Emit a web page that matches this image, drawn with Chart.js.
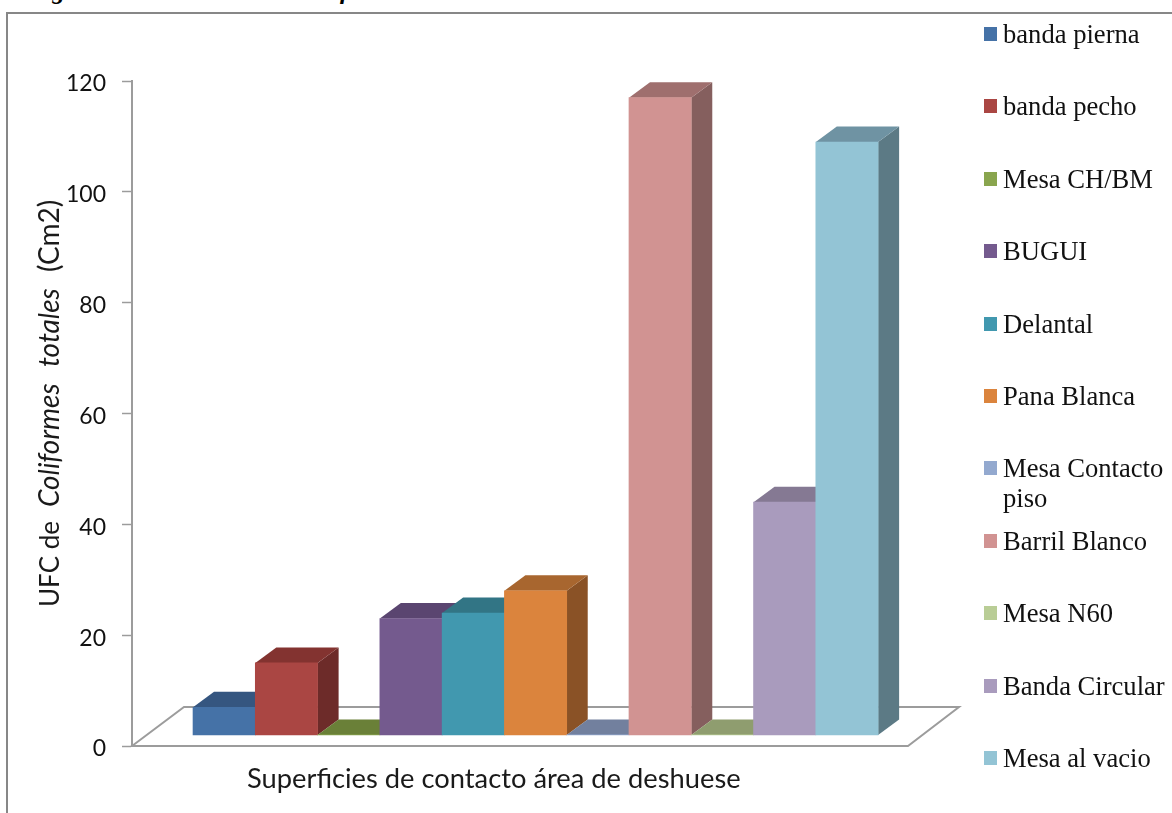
<!DOCTYPE html>
<html lang="es">
<head>
<meta charset="utf-8">
<title>UFC de Coliformes totales</title>
<script src="https://cdn.jsdelivr.net/npm/chart.js@4"></script>
<style>
    html, body { margin: 0; padding: 0; background: #fff; overflow: hidden; }
    #page { position: relative; width: 1172px; height: 813px; overflow: hidden; }
    #frame { position: absolute; left: 6px; top: 12px; width: 1200px; height: 900px; border: 2px solid #878787; }
    #chart { position: absolute; left: 0; top: 0; }
    .caption { position: absolute; top: -23px; font: italic bold 25px "Liberation Serif", serif; color: #000; white-space: nowrap; }
    .legend-item { position: absolute; left: 984px; }
    .legend-swatch { position: absolute; left: 0; top: 0; width: 13px; height: 14px; }
    .legend-text { position: absolute; left: 19px; top: -8px; width: 168px; font: 26.6px/30px "Liberation Serif", serif; color: #111; }
</style>
</head>
<body>
<div id="page">
    <div class="caption" style="left: 29px;">Figura</div>
    <div class="caption" style="left: 297px;">Coliformes totales</div>
    <div id="frame"></div>
    <canvas id="chart" width="1172" height="813"></canvas>
    <div id="legend"></div>
</div>
<script>
// Superficies muestreadas y recuento de cada una
const categories = ['banda pierna', 'banda pecho', 'Mesa CH/BM', 'BUGUI', 'Delantal', 'Pana Blanca',
    'Mesa Contacto piso', 'Barril Blanco', 'Mesa N60', 'Banda Circular', 'Mesa al vacio'];
const counts = [5, 13, 0, 21, 22, 26, 0, 115, 0, 42, 107];
const axisTicks = [0, 20, 40, 60, 80, 100, 120];

// Front, top and side shades of each bar
const frontColors = ['#4572a7', '#aa4643', '#89a54e', '#745a8e', '#4198af', '#db843d',
    '#93a9cf', '#d19392', '#b9cd96', '#a99bbd', '#93c4d5'];
const topColors = ['#355680', '#833330', '#6a8038', '#5a4570', '#327585', '#a8662f',
    '#72809e', '#9f6f6e', '#8f9d6f', '#857993', '#6f93a3'];
const sideColors = ['#2f4c70', '#6d2b29', '#566a30', '#4d3b60', '#2a6270', '#8a5226',
    '#5f6c85', '#855f5e', '#77835d', '#6f657b', '#5c7a85'];

const AXIS_GRAY = '#9c9c9c';
const TEXT_FONT = 'Lato, sans-serif';

// Offset of the back of a bar from its front face
const DEPTH_X = 21;
const DEPTH_Y = 15.5;

function fillFace(ctx, points, color) {
    ctx.beginPath();
    ctx.moveTo(points[0][0], points[0][1]);
    points.slice(1).forEach(p => ctx.lineTo(p[0], p[1]));
    ctx.closePath();
    ctx.fillStyle = color;
    ctx.fill();
}

// Floor outline, drawn under the bars
const floorPlugin = {
    id: 'floor',
    beforeDatasetsDraw(chart) {
        const ctx = chart.ctx;
        const area = chart.chartArea;
        ctx.save();
        ctx.strokeStyle = AXIS_GRAY;
        ctx.lineWidth = 2;
        ctx.beginPath();
        ctx.moveTo(area.left, area.bottom);
        ctx.lineTo(area.left + 52, area.bottom - 39);
        ctx.lineTo(area.right + 51, area.bottom - 39);
        ctx.lineTo(area.right, area.bottom);
        ctx.closePath();
        ctx.stroke();
        ctx.restore();
    }
};

// Side and top faces for each bar, left to right so nearer bars paint over
const depthPlugin = {
    id: 'depth',
    beforeDatasetsDraw(chart) {
        const ctx = chart.ctx;
        ctx.save();
        chart.getDatasetMeta(0).data.forEach((bar, i) => {
            const half = bar.width / 2;
            const left = bar.x - half;
            const right = bar.x + half;
            fillFace(ctx, [[right, bar.y], [right + DEPTH_X, bar.y - DEPTH_Y],
                [right + DEPTH_X, bar.base - DEPTH_Y], [right, bar.base]], sideColors[i]);
            fillFace(ctx, [[left, bar.y], [left + DEPTH_X, bar.y - DEPTH_Y],
                [right + DEPTH_X, bar.y - DEPTH_Y], [right, bar.y]], topColors[i]);
        });
        ctx.restore();
    }
};

// Axis titles: the y title mixes upright and italic text
const titlesPlugin = {
    id: 'titles',
    afterDraw(chart) {
        const ctx = chart.ctx;
        ctx.save();
        ctx.fillStyle = '#1a1a1a';
        ctx.textBaseline = 'alphabetic';
        ctx.font = `27.3px ${TEXT_FONT}`;
        ctx.fillText('Superficies de contacto área de deshuese', 247, 788);

        ctx.translate(59, 607);
        ctx.rotate(-Math.PI / 2);
        [['UFC de', '26px ', 0], ['Coliformes', 'italic 28px ', 100], ['totales', 'italic 28px ', 240], ['(Cm2)', '28px ', 335]].forEach(([text, style, offset]) => {
            ctx.font = `${style}${TEXT_FONT}`;
            ctx.fillText(text, offset, 0);
        });
        ctx.restore();
    }
};

new Chart(document.getElementById('chart'), {
    type: 'bar',
    data: {
        datasets: [{
            data: counts.map((value, i) => ({ x: i, y: value })),
            backgroundColor: frontColors,
            borderWidth: 0,
            barThickness: 62.3,
            yAxisID: 'yBars'
        }]
    },
    options: {
        responsive: false,
        animation: false,
        layout: { padding: { top: 81, bottom: 67, right: 264 } },
        plugins: {
            legend: { display: false },
            tooltip: { enabled: false }
        },
        scales: {
            x: {
                type: 'linear',
                display: false,
                offset: false,
                min: -1.48,
                max: 10.98
            },
            y: {
                position: 'left',
                min: 0,
                max: 120,
                afterBuildTicks: scale => {
                    scale.ticks = axisTicks.map(value => ({ value }));
                },
                afterFit: scale => {
                    scale.width = 132;
                },
                border: { color: AXIS_GRAY, width: 2 },
                grid: { drawOnChartArea: false, color: AXIS_GRAY, tickLength: 10, tickWidth: 1.5 },
                ticks: {
                    color: '#111',
                    padding: 16,
                    labelOffset: 3,
                    font: { family: 'Lato', size: 23 }
                }
            },
            // The bars stand on the floor, two units above the axis zero
            yBars: {
                display: false,
                min: -2,
                max: 118
            }
        }
    },
    plugins: [floorPlugin, depthPlugin, titlesPlugin]
});

// Legend on the right; the long label wraps onto a second line
const legendEl = document.getElementById('legend');
categories.forEach((name, i) => {
    const item = document.createElement('div');
    item.className = 'legend-item';
    item.style.top = `${27 + i * 72.4}px`;

    const swatch = document.createElement('div');
    swatch.className = 'legend-swatch';
    swatch.style.background = frontColors[i];
    item.appendChild(swatch);

    const text = document.createElement('div');
    text.className = 'legend-text';
    text.textContent = name;
    item.appendChild(text);

    legendEl.appendChild(item);
});
</script>
</body>
</html>
